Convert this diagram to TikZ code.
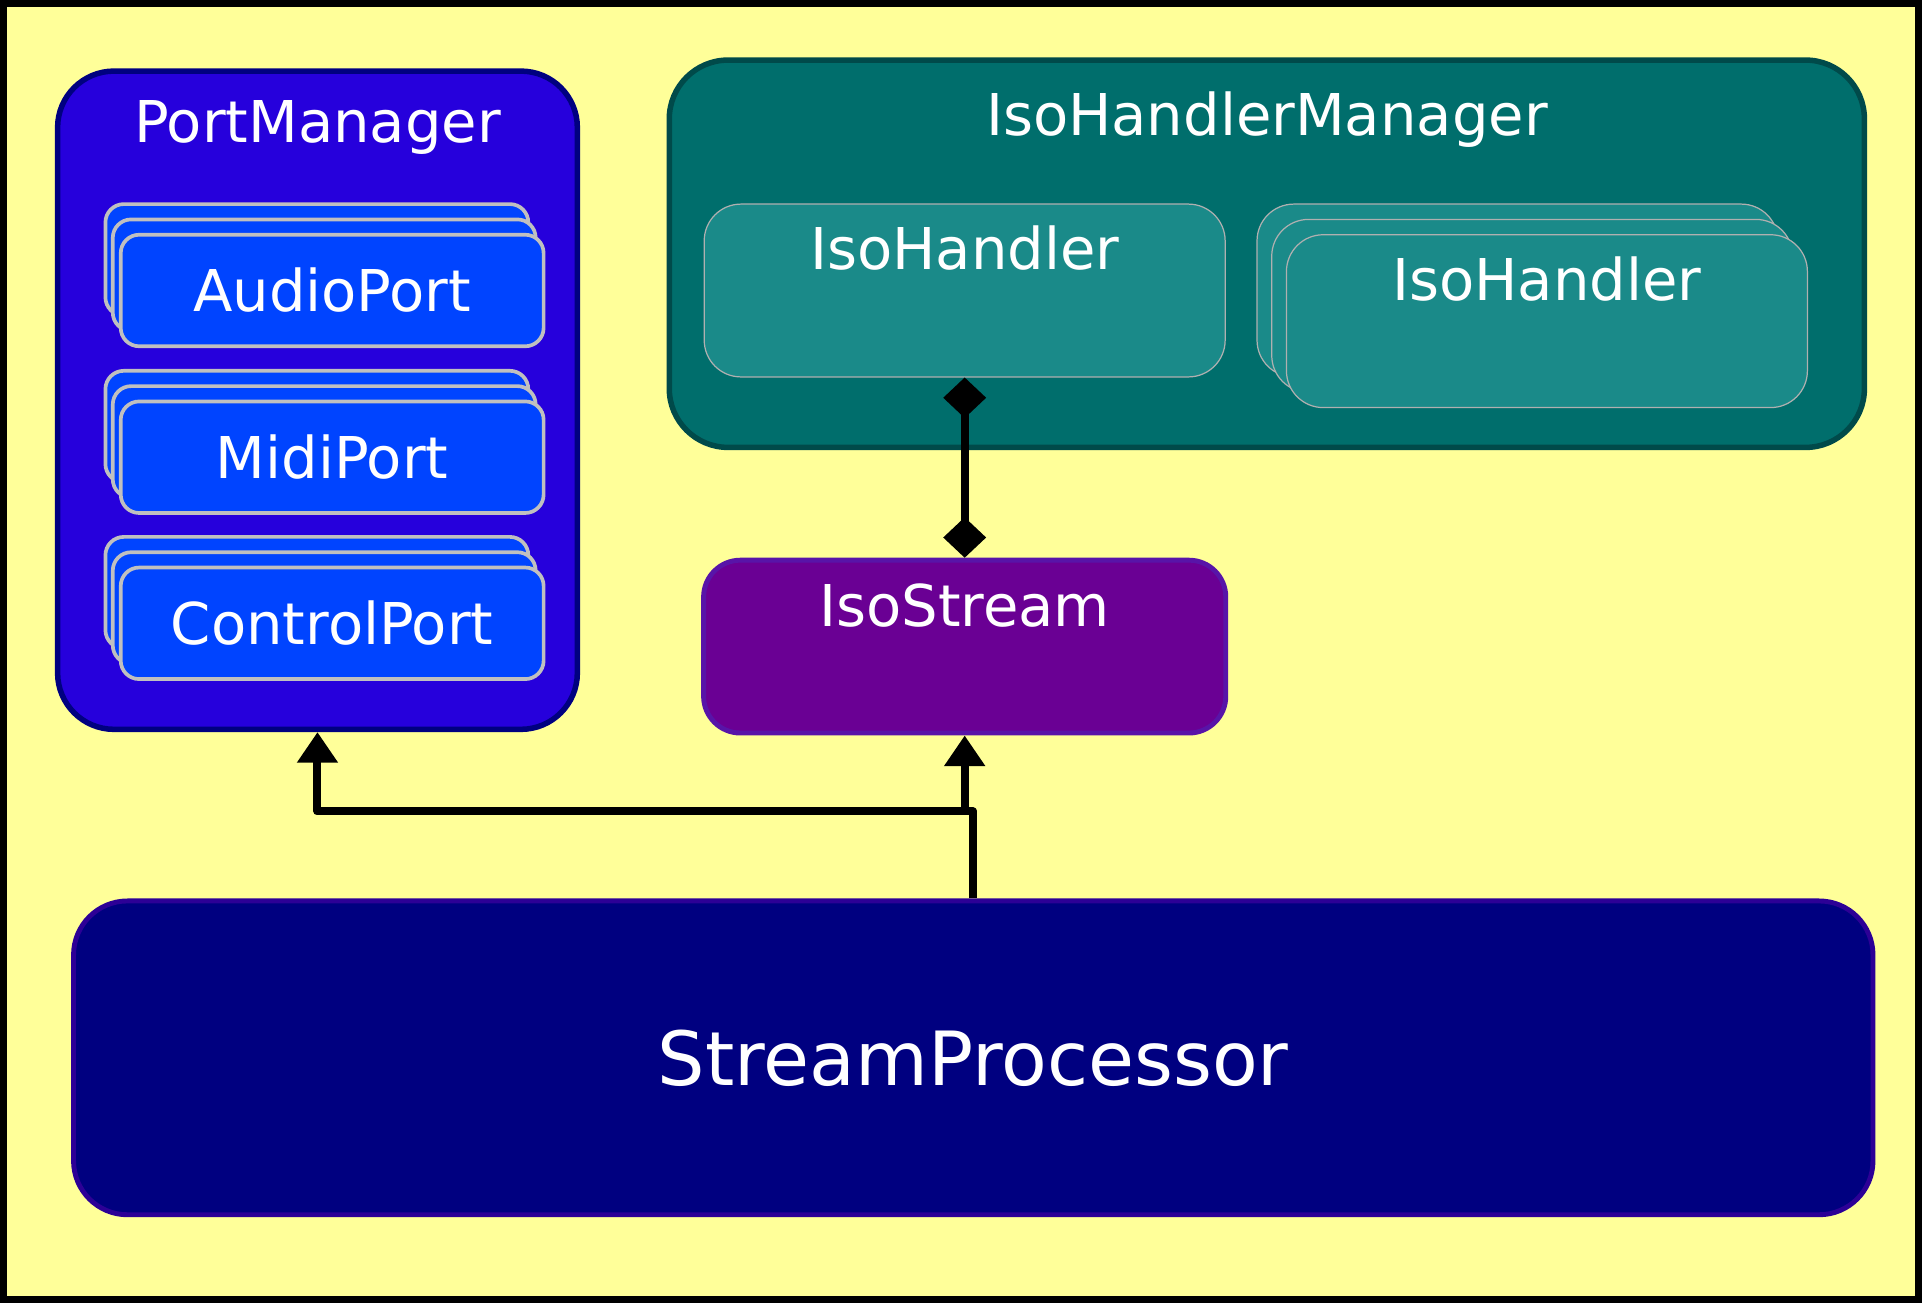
\documentclass[tikz,border=0pt]{standalone}
\usepackage{fontspec}
\setmainfont{DejaVu Sans}
\usepackage{tikz}
\usetikzlibrary{positioning, arrows.meta}

\definecolor{bgyellow}{RGB}{255,255,153}
\definecolor{pmfill}{RGB}{38,0,220}
\definecolor{pmedge}{RGB}{0,0,128}
\definecolor{portfill}{RGB}{0,68,255}
\definecolor{portedge}{RGB}{192,192,192}
\definecolor{ihmfill}{RGB}{0,110,108}
\definecolor{ihmedge}{RGB}{0,74,74}
\definecolor{ihfill}{RGB}{26,138,137}
\definecolor{ihedge}{RGB}{176,176,176}
\definecolor{isfill}{RGB}{106,0,148}
\definecolor{isedge}{RGB}{88,20,168}
\definecolor{spfill}{RGB}{0,0,128}
\definecolor{spedge}{RGB}{44,0,150}

\begin{document}
\begin{tikzpicture}[x=1pt, y=-1pt,
    every node/.style={text=white, font=\fontsize{47}{56}\selectfont},
    label/.style={inner sep=0pt},
    port/.style={draw=portedge, fill=portfill, line width=3pt, rounded corners=15pt,
      minimum width=345pt, minimum height=91pt},
    handler/.style={draw=ihedge, fill=ihfill, line width=1pt, rounded corners=30pt,
      minimum width=425pt, minimum height=141pt},
    link/.style={line width=6.5pt, line join=round},
    owns/.tip={Diamond[length=33pt, width=35pt]},
    uses/.tip={Triangle[length=25pt, width=32pt]}]
  \useasboundingbox (0,0) rectangle (1568,1063);
  \draw[fill=bgyellow, line width=12pt] (0,0) rectangle (1568,1063);

  % managers
  \node[draw=pmedge, fill=pmfill, line width=4.5pt, rounded corners=46pt,
    minimum width=424pt, minimum height=537pt] (pm) at (259,326.5) {};
  \node[label, below=26pt of pm.north] (pmtitle) {PortManager};

  \foreach \port/\txt/\y in {audio/AudioPort/237, midi/MidiPort/373, ctrl/ControlPort/508.5} {
    \node[port] (\port-back) at (258.5,\y-25) {};
    \node[port] (\port-mid) at (264.5,\y-12.5) {};
    \node[port] (\port) at (271,\y) {\txt};
  }

  \node[draw=ihmedge, fill=ihmfill, line width=4.5pt, rounded corners=48pt,
    minimum width=975pt, minimum height=316pt] (ihm) at (1033.5,207) {};
  \node[label, below=28pt of ihm.north] (ihmtitle) {IsoHandlerManager};

  \node[handler] (ih) at (787,237) {};
  \node[label, below=18pt of ih.north] (ihtitle) {IsoHandler};

  \node[handler] (ih2-back) at (1238,237) {};
  \node[handler] (ih2-mid) at (1250,249.5) {};
  \node[handler] (ih2) at (1262,262) {};
  \node[label, below=18pt of ih2.north] (ih2title) {IsoHandler};

  % stream side
  \node[draw=isedge, fill=isfill, line width=4pt, rounded corners=30pt,
    minimum width=426pt, minimum height=141pt] (iso) at (787,527.5) {};
  \node[label, below=21pt of iso.north] (isotitle) {IsoStream};

  \node[draw=spedge, fill=spfill, line width=4pt, rounded corners=44pt,
    minimum width=1468pt, minimum height=256pt,
    font=\fontsize{61}{72}\selectfont] (sp) at (794,863) {StreamProcessor};

  \draw[link, owns-owns] (ih) -- (iso);

  \coordinate[above=71pt of sp.north] (split);
  \draw[link, -uses] (sp.north) -- (split) -| (pm.south);
  \draw[link, -uses] (split -| iso.south) -- (iso.south);
\end{tikzpicture}
\end{document}
